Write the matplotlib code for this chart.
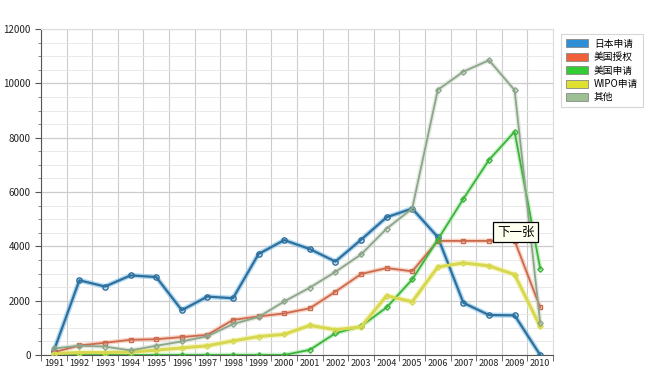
import matplotlib.pyplot as plt
from matplotlib.ticker import MultipleLocator, FixedLocator

plt.rcParams['font.family'] = ['Noto Sans CJK SC', 'DejaVu Sans']

years = [str(y) for y in range(1991, 2011)]

jp_apply = [150, 2750, 2520, 2930, 2870, 1650, 2150, 2090, 3720, 4230,
            3900, 3440, 4240, 5070, 5390, 4340, 1920, 1470, 1460, 0]
us_grant = [100, 350, 450, 560, 580, 660, 740, 1290, 1420, 1530,
            1720, 2330, 2980, 3200, 3080, 4200, 4200, 4200, 4210, 1750]
us_apply = [0, 0, 0, 0, 0, 0, 0, 0, 0, 0,
            190, 800, 1060, 1750, 2780, 4250, 5750, 7180, 8220, 3180]
wipo_apply = [50, 90, 90, 110, 180, 260, 340, 520, 680, 760,
              1090, 930, 1030, 2180, 1960, 3240, 3390, 3280, 2960, 1050]
others = [240, 340, 310, 170, 340, 500, 690, 1140, 1400, 1970,
          2480, 3060, 3700, 4650, 5390, 9760, 10430, 10850, 9750, 1180]

# name, values, line colour, glow colour, legend colour, marker, marker size, line width
series = [
    ("日本申请", jp_apply, "#2f6f9c", "#7cc0ea", "#2e8fd6", "o", 3.8, 1.6),
    ("美国授权", us_grant, "#cc6a4e", "#f4b8a0", "#f0603a", "s", 3.0, 1.3),
    ("美国申请", us_apply, "#3cb43c", "#a6e8a6", "#33cc33", "D", 2.8, 1.3),
    ("WIPO申请", wipo_apply, "#d8d850", "#f0f0a0", "#e0e030", "D", 2.8, 2.2),
    ("其他", others, "#8da58a", "#d2ded0", "#9cbf94", "D", 2.8, 1.3),
]

fig = plt.figure(figsize=(6.58, 3.77), dpi=100)
ax = fig.add_axes([41 / 658, 22 / 377, 512 / 658, 326 / 377])

x = list(range(len(years)))
handles = []
for name, vals, lc, glow, patch, mk, ms, lw in series:
    ax.plot(x, vals, color=glow, lw=lw + 2.0, alpha=0.6, solid_capstyle='round', zorder=2)
    ax.plot(x, vals, color=lc, lw=lw, marker=mk, ms=ms, mfc='none', mec=lc, mew=1.0, zorder=3)
    handles.append(plt.Rectangle((0, 0), 1, 1, fc=patch, ec='#888888', lw=0.6))

ax.set_xlim(-0.5, len(years) - 0.5)
ax.set_ylim(0, 12000)
ax.set_xticks(x)
ax.set_xticklabels(years, fontsize=6.5, color='#222222')
ax.xaxis.set_minor_locator(FixedLocator([i - 0.5 for i in range(len(years) + 1)]))
ax.tick_params(axis='x', which='major', length=0, pad=3)
ax.tick_params(axis='x', which='minor', length=4, color='#555555')
ax.yaxis.set_major_locator(MultipleLocator(2000))
ax.yaxis.set_minor_locator(MultipleLocator(500))
ax.tick_params(axis='y', which='major', labelsize=7, length=4, color='#555555', labelcolor='#222222')
ax.tick_params(axis='y', which='minor', length=2, color='#777777')

ax.grid(True, axis='y', which='major', color='#cccccc', lw=0.9)
ax.grid(True, axis='y', which='minor', color='#e6e6e6', lw=0.6)
ax.grid(True, axis='x', which='minor', color='#cccccc', lw=0.8)
ax.set_axisbelow(True)

for side in ['top', 'right']:
    ax.spines[side].set_color('#dddddd')
for side in ['left', 'bottom']:
    ax.spines[side].set_color('#555555')
    ax.spines[side].set_linewidth(0.8)

leg = fig.legend(handles, [s[0] for s in series], loc='upper left',
                 bbox_to_anchor=(556 / 658, 1 - 29 / 377), fontsize=7,
                 frameon=True, fancybox=False, handlelength=2.3, handleheight=0.9,
                 handletextpad=0.6, labelspacing=0.35, borderpad=0.5)
leg.get_frame().set_edgecolor('#cccccc')
leg.get_frame().set_linewidth(0.8)

ax.text(18.05, 4530, "下一张", fontsize=9, ha='center', va='center', zorder=5,
        bbox=dict(boxstyle='square,pad=0.3', fc='#fffff0', ec='black', lw=0.9))

fig.savefig('out.png', dpi=100)
